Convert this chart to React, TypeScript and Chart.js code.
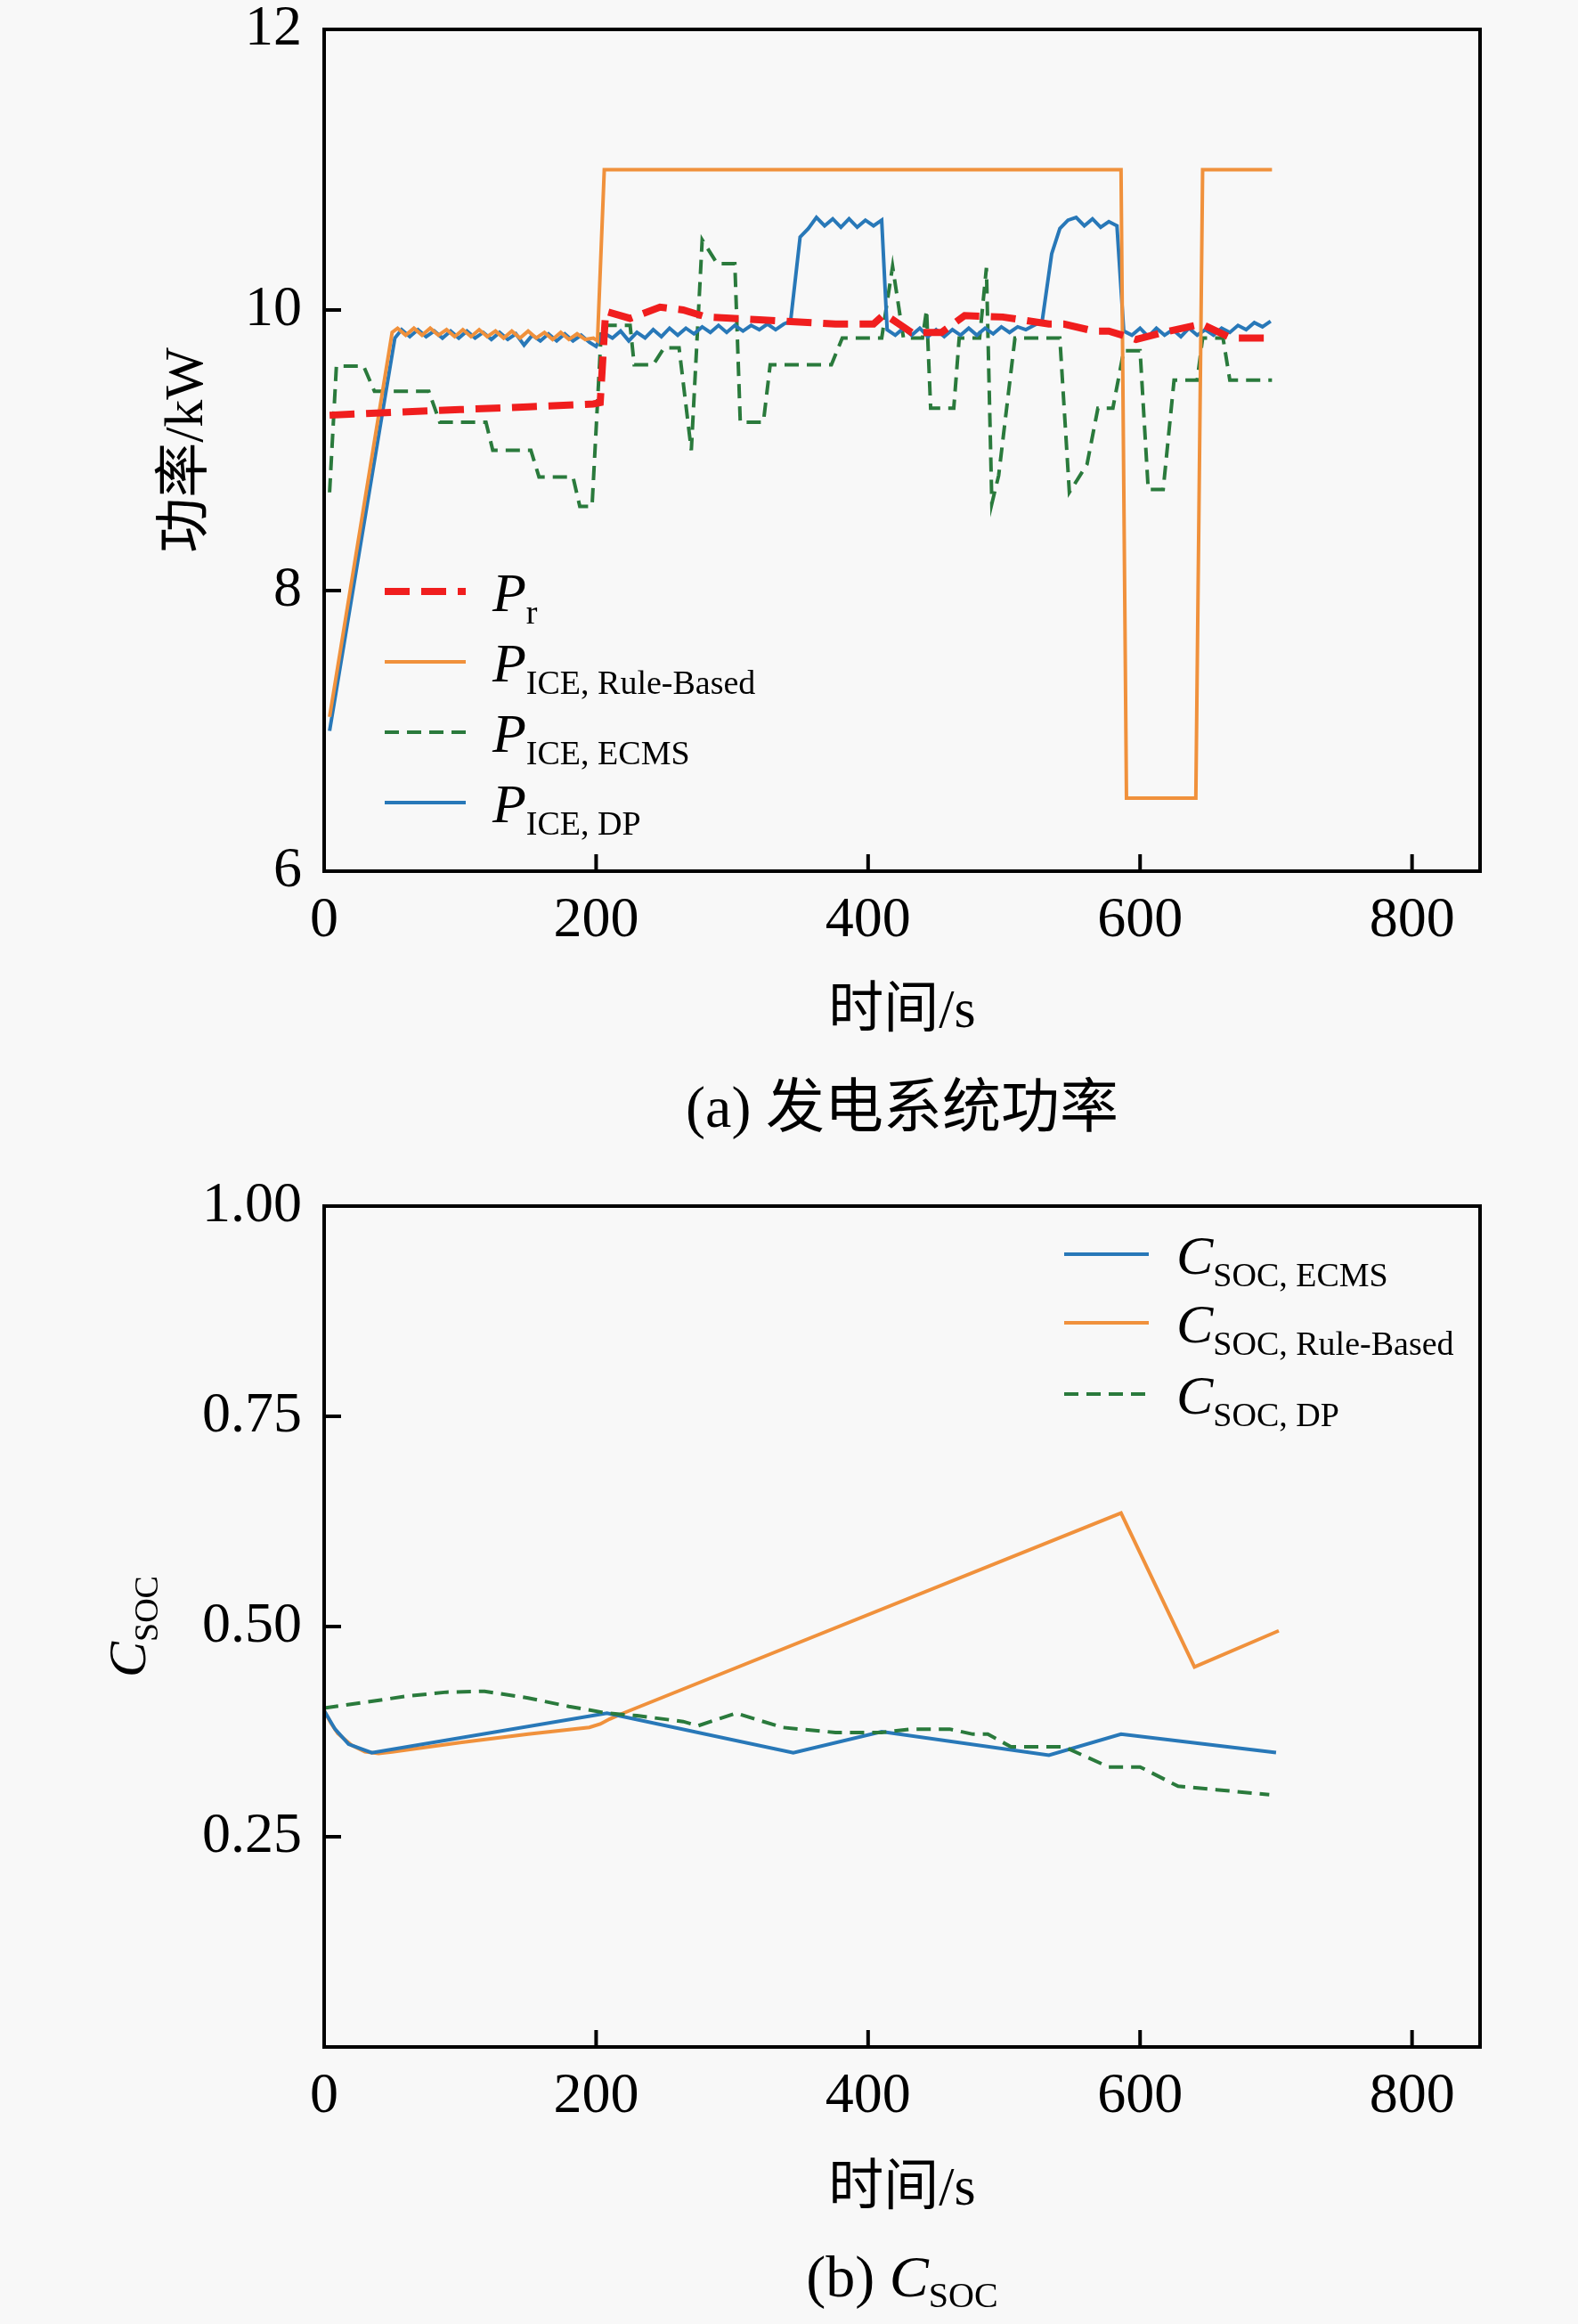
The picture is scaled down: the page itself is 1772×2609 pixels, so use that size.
import React, { useEffect, useRef } from 'react';
import { Chart, registerables } from 'chart.js';

Chart.register(...registerables);

const SERIF = "'Liberation Serif', 'Times New Roman', serif";
const MIXED = "'Liberation Serif', 'Noto Sans CJK SC', serif";

const RED = '#f01e1e';
const ORANGE = '#f0913c';
const BLUE = '#2878b8';
const GREEN = '#2a7a3c';

// shared x axis
const xTicks = [0, 200, 400, 600, 800];

// (a) generator power, kW
const powerTicks = [6, 8, 10, 12];

const prTime = [4, 50, 100, 150, 198, 203, 207, 225, 247, 264, 281, 320, 376, 404, 412, 432, 454, 471, 499, 533, 544, 566, 577, 597, 617, 645, 667, 697];
const prPower = [9.25, 9.27, 9.29, 9.31, 9.33, 9.34, 9.99, 9.94, 10.02, 10.0, 9.95, 9.93, 9.9, 9.9, 9.97, 9.84, 9.84, 9.96, 9.95, 9.9, 9.9, 9.85, 9.85, 9.79, 9.84, 9.9, 9.8, 9.8];

const ruleTime = [4, 50, 54, 60, 66, 72, 78, 84, 90, 96, 102, 108, 114, 120, 126, 132, 138, 144, 150, 156, 162, 168, 174, 180, 186, 192, 198, 201, 206, 586, 590, 641, 646, 697];
const rulePower = [7.1, 9.84, 9.87, 9.82, 9.87, 9.82, 9.87, 9.82, 9.86, 9.81, 9.86, 9.81, 9.86, 9.81, 9.85, 9.8, 9.85, 9.8, 9.85, 9.8, 9.84, 9.79, 9.84, 9.79, 9.83, 9.79, 9.8, 9.78, 11, 11, 6.52, 6.52, 11, 11];

const ecmsTime = [4, 9, 29, 37, 77, 85, 119, 124, 152, 158, 183, 188, 197, 204, 225, 228, 242, 250, 261, 270, 278, 289, 302, 306, 323, 328, 373, 381, 410, 418, 426, 440, 443, 446, 463, 467, 482, 487, 491, 496, 508, 541, 548, 561, 569, 580, 588, 600, 606, 617, 625, 642, 646, 661, 666, 697];
const ecmsPower = [8.7, 9.6, 9.6, 9.42, 9.42, 9.2, 9.2, 9.0, 9.0, 8.81, 8.81, 8.6, 8.6, 9.89, 9.89, 9.61, 9.61, 9.73, 9.73, 9.0, 10.5, 10.33, 10.33, 9.2, 9.2, 9.61, 9.61, 9.8, 9.8, 10.31, 9.8, 9.8, 10.0, 9.3, 9.3, 9.8, 9.8, 10.3, 8.62, 8.82, 9.8, 9.8, 8.7, 8.9, 9.3, 9.3, 9.71, 9.71, 8.72, 8.72, 9.5, 9.5, 9.8, 9.8, 9.5, 9.5];

const dpTime = [4, 52, 57, 63, 69, 75, 81, 87, 93, 99, 105, 111, 117, 123, 129, 135, 141, 147, 153, 159, 165, 171, 177, 183, 189, 195, 200, 205, 212, 218, 224, 230, 236, 242, 248, 254, 260, 266, 272, 278, 284, 290, 296, 302, 308, 314, 320, 326, 332, 338, 343, 350, 356, 362, 368, 374, 380, 386, 392, 398, 404, 410, 414, 420, 426, 432, 438, 444, 450, 456, 462, 468, 474, 480, 486, 492, 498, 504, 510, 516, 522, 528, 535, 541, 547, 553, 559, 565, 571, 577, 583, 588, 594, 600, 606, 612, 618, 624, 630, 636, 642, 648, 654, 660, 666, 672, 678, 684, 690, 696];
const dpPower = [7.0, 9.8, 9.86, 9.81, 9.86, 9.81, 9.85, 9.8, 9.85, 9.8, 9.85, 9.8, 9.84, 9.79, 9.84, 9.79, 9.83, 9.75, 9.82, 9.78, 9.83, 9.78, 9.83, 9.78, 9.82, 9.77, 9.74, 9.84, 9.8, 9.85, 9.78, 9.84, 9.8, 9.86, 9.81, 9.87, 9.82, 9.87, 9.83, 9.88, 9.84, 9.89, 9.84, 9.89, 9.85, 9.89, 9.86, 9.9, 9.86, 9.9, 9.92, 10.52, 10.58, 10.66, 10.6, 10.65, 10.59, 10.65, 10.59, 10.64, 10.6, 10.64, 9.86, 9.82, 9.87, 9.82, 9.87, 9.81, 9.86, 9.81, 9.86, 9.82, 9.87, 9.82, 9.87, 9.83, 9.88, 9.84, 9.88, 9.86, 9.89, 9.92, 10.4, 10.58, 10.64, 10.66, 10.6, 10.65, 10.59, 10.63, 10.6, 9.85, 9.82, 9.87, 9.81, 9.87, 9.82, 9.86, 9.81, 9.87, 9.82, 9.86, 9.82, 9.87, 9.84, 9.89, 9.86, 9.91, 9.88, 9.92];

const powerLegend = ['r', 'ICE, Rule-Based', 'ICE, ECMS', 'ICE, DP'];

// (b) state of charge
const socTicks = [0.25, 0.5, 0.75, 1.0];

const socEcmsTime = [0, 8, 18, 35, 208, 345, 410, 533, 586, 700];
const socEcms = [0.4, 0.378, 0.36, 0.35, 0.397, 0.35, 0.375, 0.347, 0.372, 0.35];

const socRuleTime = [0, 5, 10, 20, 30, 40, 50, 100, 150, 195, 203, 210, 220, 586, 640, 702];
const socRule = [0.4, 0.385, 0.373, 0.359, 0.351, 0.349, 0.351, 0.362, 0.372, 0.38, 0.384, 0.39, 0.397, 0.635, 0.452, 0.495];

const socDpTime = [0, 30, 60, 90, 118, 150, 180, 208, 230, 264, 275, 303, 337, 376, 410, 432, 460, 477, 488, 505, 544, 577, 600, 628, 656, 695];
const socDp = [0.403, 0.41, 0.417, 0.422, 0.423, 0.415, 0.405, 0.397, 0.394, 0.387, 0.382, 0.397, 0.38, 0.374, 0.374, 0.378, 0.378, 0.372, 0.372, 0.357, 0.357, 0.333, 0.333, 0.31, 0.306, 0.3];

const socLegend = ['SOC, ECMS', 'SOC, Rule-Based', 'SOC, DP'];

const pts = (xs: number[], ys: number[]) => xs.map((x, i) => ({ x, y: ys[i] }));

type LegendRow = { color: string; width: number; dash: number[]; sub: string };

// italic symbol followed by a roman subscript
function symbolSub(ctx: CanvasRenderingContext2D, x: number, y: number, main: string, sub: string, size: number, subSize: number, drop: number) {
  ctx.textAlign = 'left';
  ctx.textBaseline = 'alphabetic';
  ctx.font = `italic ${size}px ${SERIF}`;
  ctx.fillText(main, x, y);
  const w = ctx.measureText(main).width;
  ctx.font = `${subSize}px ${SERIF}`;
  ctx.fillText(sub, x + w, y + drop);
}

interface PanelProps {
  height: number;
  top: number;
  datasets: any[];
  yMin: number;
  yMax: number;
  yTicks: number[];
  yDigits: number;
  padTop: number;
  axisHeight: number;
  decorate: (chart: Chart) => void;
}

const Panel: React.FC<PanelProps> = ({ height, top, datasets, yMin, yMax, yTicks, yDigits, padTop, axisHeight, decorate }) => {
  const canvasRef = useRef<HTMLCanvasElement>(null);

  useEffect(() => {
    if (!canvasRef.current) return;
    const tickFont = { family: SERIF, size: 64, lineHeight: 1 };
    const chart = new Chart(canvasRef.current, {
      type: 'line',
      data: { datasets },
      options: {
        responsive: false,
        animation: false,
        devicePixelRatio: 1,
        layout: { padding: { top: padTop, right: 110, left: 0, bottom: 0 } },
        plugins: { legend: { display: false }, tooltip: { enabled: false } },
        elements: { point: { radius: 0 }, line: { tension: 0 } },
        scales: {
          x: {
            type: 'linear',
            min: 0,
            max: 850,
            afterBuildTicks: (axis: any) => { axis.ticks = xTicks.map((v) => ({ value: v })); },
            afterFit: (axis: any) => { axis.height = axisHeight; },
            grid: { display: false, drawTicks: false },
            border: { display: false },
            ticks: { font: tickFont, color: '#000', padding: 24, maxRotation: 0, autoSkip: false, callback: (v: any) => String(v) },
          },
          y: {
            type: 'linear',
            min: yMin,
            max: yMax,
            afterBuildTicks: (axis: any) => { axis.ticks = yTicks.map((v) => ({ value: v })); },
            afterFit: (axis: any) => { axis.width = 364; },
            grid: { display: false, drawTicks: false },
            border: { display: false },
            ticks: { font: tickFont, color: '#000', padding: 25, autoSkip: false, callback: (v: any) => Number(v).toFixed(yDigits) },
          },
        },
      },
      plugins: [{
        id: 'frame',
        afterDraw: (c: Chart) => {
          const { ctx, chartArea } = c;
          const { left, right, top: t, bottom } = chartArea;
          const xs = c.scales.x;
          const ys = c.scales.y;
          ctx.save();
          ctx.strokeStyle = '#000';
          ctx.lineWidth = 4;
          ctx.setLineDash([]);
          ctx.strokeRect(left, t, right - left, bottom - t);
          ctx.beginPath();
          xTicks.forEach((v) => {
            if (v <= xs.min) return;
            const px = xs.getPixelForValue(v);
            ctx.moveTo(px, bottom);
            ctx.lineTo(px, bottom - 19);
          });
          yTicks.forEach((v) => {
            if (v <= ys.min || v >= ys.max) return;
            const py = ys.getPixelForValue(v);
            ctx.moveTo(left, py);
            ctx.lineTo(left + 19, py);
          });
          ctx.stroke();
          ctx.fillStyle = '#000';
          decorate(c);
          ctx.restore();
        },
      }],
    } as any);
    return () => { chart.destroy(); };
  }, []);

  return (
    <canvas
      ref={canvasRef}
      width={1772}
      height={height}
      style={{ position: 'absolute', left: 0, top, width: 1772, height, display: 'block' }}
    />
  );
};

function drawLegend(ctx: CanvasRenderingContext2D, rows: LegendRow[], x0: number, x1: number, textX: number, y0: number, step: number[], main: string) {
  rows.forEach((r, i) => {
    const y = y0 + step[i];
    ctx.save();
    ctx.strokeStyle = r.color;
    ctx.lineWidth = r.width;
    ctx.setLineDash(r.dash);
    ctx.beginPath();
    ctx.moveTo(x0, y);
    ctx.lineTo(x1, y);
    ctx.stroke();
    ctx.restore();
    ctx.fillStyle = '#000';
    symbolSub(ctx, textX, y + 22, main, r.sub, 62, 38, 14);
  });
}

const App: React.FC = () => {
  const powerRows: LegendRow[] = [
    { color: RED, width: 8, dash: [28, 13], sub: powerLegend[0] },
    { color: ORANGE, width: 4, dash: [], sub: powerLegend[1] },
    { color: GREEN, width: 4, dash: [16, 9], sub: powerLegend[2] },
    { color: BLUE, width: 4, dash: [], sub: powerLegend[3] },
  ];
  const socRows: LegendRow[] = [
    { color: BLUE, width: 4, dash: [], sub: socLegend[0] },
    { color: ORANGE, width: 4, dash: [], sub: socLegend[1] },
    { color: GREEN, width: 4, dash: [16, 9], sub: socLegend[2] },
  ];

  const powerSets = [
    { label: 'P_r', data: pts(prTime, prPower), borderColor: RED, borderWidth: 8, borderDash: [28, 13], order: 0 },
    { label: 'P_ICE,Rule-Based', data: pts(ruleTime, rulePower), borderColor: ORANGE, borderWidth: 4, order: 1 },
    { label: 'P_ICE,ECMS', data: pts(ecmsTime, ecmsPower), borderColor: GREEN, borderWidth: 4, borderDash: [16, 9], order: 3 },
    { label: 'P_ICE,DP', data: pts(dpTime, dpPower), borderColor: BLUE, borderWidth: 4, order: 2 },
  ];
  const socSets = [
    { label: 'C_SOC,ECMS', data: pts(socEcmsTime, socEcms), borderColor: BLUE, borderWidth: 4, order: 1 },
    { label: 'C_SOC,Rule-Based', data: pts(socRuleTime, socRule), borderColor: ORANGE, borderWidth: 4, order: 2 },
    { label: 'C_SOC,DP', data: pts(socDpTime, socDp), borderColor: GREEN, borderWidth: 4, borderDash: [16, 9], order: 0 },
  ];

  const decoratePower = (c: Chart) => {
    const { ctx, chartArea: { left, right, top, bottom } } = c;
    const cx = (left + right) / 2;
    // y title
    ctx.save();
    ctx.translate(left - 153, (top + bottom) / 2);
    ctx.rotate(-Math.PI / 2);
    ctx.font = `62px ${MIXED}`;
    ctx.textAlign = 'center';
    ctx.textBaseline = 'middle';
    ctx.fillText('功率/kW', 0, 0);
    ctx.restore();
    ctx.font = `62px ${MIXED}`;
    ctx.textAlign = 'center';
    ctx.textBaseline = 'alphabetic';
    ctx.fillText('时间/s', cx, bottom + 175);
    ctx.font = `66px ${MIXED}`;
    ctx.fillText('(a) 发电系统功率', cx, bottom + 287);
    drawLegend(ctx, powerRows, left + 68, left + 159, left + 189, top, [631, 710, 789, 868], 'P');
  };

  const decorateSoc = (c: Chart) => {
    const { ctx, chartArea: { left, right, top, bottom } } = c;
    const cx = (left + right) / 2;
    // y title C_SOC
    ctx.save();
    ctx.translate(left - 201, (top + bottom) / 2);
    ctx.rotate(-Math.PI / 2);
    ctx.font = `italic 60px ${SERIF}`;
    const wc = ctx.measureText('C').width;
    ctx.font = `38px ${SERIF}`;
    const ws = ctx.measureText('SOC').width;
    symbolSub(ctx, -(wc + ws) / 2, 0, 'C', 'SOC', 60, 38, 14);
    ctx.restore();
    ctx.font = `62px ${MIXED}`;
    ctx.textAlign = 'center';
    ctx.textBaseline = 'alphabetic';
    ctx.fillText('时间/s', cx, bottom + 177);
    // caption (b) C_SOC
    ctx.font = `66px ${SERIF}`;
    const wb = ctx.measureText('(b) ').width;
    ctx.font = `italic 66px ${SERIF}`;
    const wc2 = ctx.measureText('C').width;
    ctx.font = `40px ${SERIF}`;
    const ws2 = ctx.measureText('SOC').width;
    const sx = cx - (wb + wc2 + ws2) / 2;
    ctx.font = `66px ${SERIF}`;
    ctx.textAlign = 'left';
    ctx.fillText('(b) ', sx, bottom + 280);
    symbolSub(ctx, sx + wb, bottom + 280, 'C', 'SOC', 66, 40, 12);
    drawLegend(ctx, socRows, left + 831, left + 926, left + 957, top, [54, 131, 211], 'C');
  };

  return (
    <div style={{ position: 'absolute', left: 0, top: 0, width: 1772, height: 2609, background: '#f8f8f8', overflow: 'hidden' }}>
      <Panel
        height={1360}
        top={-60}
        datasets={powerSets}
        yMin={6}
        yMax={12}
        yTicks={powerTicks}
        yDigits={0}
        padTop={93}
        axisHeight={322}
        decorate={decoratePower}
      />
      <Panel
        height={1369}
        top={1240}
        datasets={socSets}
        yMin={0}
        yMax={1}
        yTicks={socTicks}
        yDigits={2}
        padTop={114}
        axisHeight={311}
        decorate={decorateSoc}
      />
    </div>
  );
};

export default App;
